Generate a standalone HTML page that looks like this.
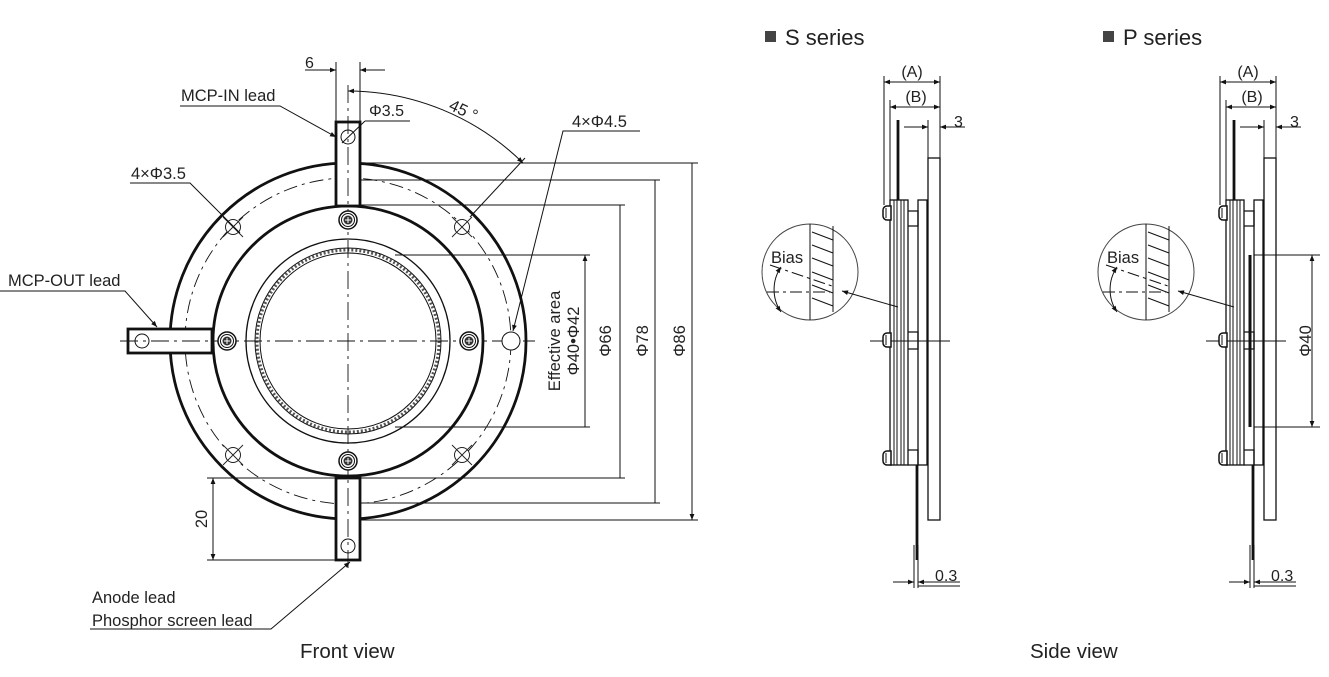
<!DOCTYPE html>
<html><head><meta charset="utf-8"><style>
html,body{margin:0;padding:0;background:#fff;width:1329px;height:677px;overflow:hidden}
svg{display:block}
text{font-family:"Liberation Sans",sans-serif;fill:#222}
</style></head><body>
<svg width="1329" height="677" viewBox="0 0 1329 677" xmlns="http://www.w3.org/2000/svg">
<defs>
<marker id="a" viewBox="0 0 10 10" refX="10" refY="5" markerWidth="10" markerHeight="6" orient="auto-start-reverse" markerUnits="userSpaceOnUse"><path d="M0,1 L10,5 L0,9 z" fill="#111"/></marker>
<g id="screw"><circle r="9" fill="#fff" stroke="#111" stroke-width="1.5"/><circle r="6.5" fill="none" stroke="#111"/><circle r="4.5" fill="#333"/><path d="M-3,0H3M0,-3V3" stroke="#fff" stroke-width="1"/></g>
<g id="hole"><circle r="7.5" fill="#fff" stroke="#222" stroke-width="1"/><path d="M-10,-10L10,10M-10,10L10,-10" stroke="#222" stroke-width="0.9"/></g>
<g id="sscrew"><path d="M2,-7 h-4 a4,4 0 0 0 -4,4 v6 a4,4 0 0 0 4,4 h4z" fill="#fff" stroke="#111" stroke-width="1.5"/><path d="M-3,-5v10" stroke="#111"/></g>
</defs>
<g stroke="#111" fill="none">
<circle cx="348" cy="341" r="178" stroke-width="2.8"/>
<circle cx="348" cy="341" r="163" stroke-width="0.9" stroke-dasharray="14 5 3 5"/>
<circle cx="348" cy="341" r="135" stroke-width="2.8" fill="#fff"/>
<circle cx="348" cy="341" r="102" stroke-width="1.3"/>
<circle cx="348" cy="341" r="93" stroke-width="1"/>
<circle cx="348" cy="341" r="91" stroke-width="3" stroke-dasharray="2 2" stroke="#555"/>
<circle cx="348" cy="341" r="88" stroke-width="1"/>
<rect x="336" y="122" width="24" height="84" fill="#fff" stroke-width="2.8"/>
<rect x="336" y="478" width="24" height="82" fill="#fff" stroke-width="2.8"/>
<rect x="128" y="329" width="84" height="24" fill="#fff" stroke-width="2.8"/>
<circle cx="348" cy="137" r="7" fill="#fff" stroke-width="1"/>
<circle cx="348" cy="546" r="7" fill="#fff" stroke-width="1"/>
<circle cx="142" cy="341" r="7" fill="#fff" stroke-width="1"/>
<path d="M348,85V570M120,341H535" stroke-width="0.9" stroke-dasharray="18 5 3 5"/>
<circle cx="511" cy="341" r="9" fill="#fff" stroke-width="1"/>
</g>
<use href="#screw" x="348" y="220"/><use href="#screw" x="348" y="461"/><use href="#screw" x="227" y="341"/><use href="#screw" x="469" y="341"/>
<use href="#hole" x="233" y="227"/><use href="#hole" x="462" y="227"/><use href="#hole" x="233" y="455"/><use href="#hole" x="462" y="455"/>
<g stroke="#111" stroke-width="1" fill="none">
<path d="M360,163H698M360,180H660M360,205H625M395,255H590M395,427H590M360,478H625M360,503H660M360,520H698"/>
<path d="M585,255V427M620,205V478M655,180V503M692,163V520" marker-start="url(#a)" marker-end="url(#a)"/>
<path d="M336,62V122M360,62V122"/>
<path d="M305,70H336" marker-end="url(#a)"/><path d="M385,70H360" marker-end="url(#a)"/>
<path d="M523,163 A250,250 0 0 0 348,91" marker-start="url(#a)" marker-end="url(#a)"/>
<path d="M525,158L470,217"/>
<path d="M180,106H280L336,137" marker-end="url(#a)"/>
<path d="M365,121H410M365,121L342,143"/>
<path d="M130,183H190L240,233"/>
<path d="M0,291H125L157,327" marker-end="url(#a)"/>
<path d="M640,131H563L513,331" marker-end="url(#a)"/>
<path d="M90,629H271L350,562" marker-end="url(#a)"/>
<path d="M207,478H336M207,560H340"/>
<path d="M213,478V560" marker-start="url(#a)" marker-end="url(#a)"/>
</g>
<text x="305" y="68" font-size="16">6</text>
<text x="181" y="101" font-size="16.5">MCP-IN lead</text>
<text x="369" y="116" font-size="16">Φ3.5</text>
<text x="449" y="112" font-size="16.5" transform="rotate(25 455 108)">45 °</text>
<text x="131" y="179" font-size="16.5">4×Φ3.5</text>
<text x="572" y="127" font-size="16.5">4×Φ4.5</text>
<text x="8" y="286" font-size="16.5">MCP-OUT lead</text>
<text x="92" y="603" font-size="16.5">Anode lead</text>
<text x="92" y="626" font-size="16.5">Phosphor screen lead</text>
<text x="300" y="658" font-size="20.5">Front view</text>
<text x="1030" y="658" font-size="20.5">Side view</text>
<g font-size="16.5" text-anchor="middle">
<text transform="translate(560,341) rotate(-90)">Effective area</text>
<text transform="translate(579,341) rotate(-90)">Φ40•Φ42</text>
<text transform="translate(611,341) rotate(-90)">Φ66</text>
<text transform="translate(648,341) rotate(-90)">Φ78</text>
<text transform="translate(685,341) rotate(-90)">Φ86</text>
<text transform="translate(207,519) rotate(-90)">20</text>
</g>
<g id="side">
<g stroke="#111" fill="none" stroke-width="1.3">
<rect x="928" y="158" width="12" height="362" fill="#fff"/>
<rect x="918" y="200" width="9" height="265" fill="#fff"/>
<path d="M908,211h10v15h-10M908,332h10v17h-10M908,450h10v15h-10"/>
<rect x="890" y="200" width="18" height="265" fill="#fff"/>
<path d="M894,200V465M897,200V465M901,200V465M904,200V465" stroke-width="1"/>
<path d="M898,120V200" stroke-width="2.8"/>
<path d="M917,465V560" stroke-width="2.8"/>
<path d="M870,341H950" stroke-width="1"/>
<g stroke-width="1">
<path d="M884,76V205M940,76V158M890,100V200M928,120V158M914,545V588M918,545V588"/>
<path d="M884,82H940" marker-start="url(#a)" marker-end="url(#a)"/>
<path d="M890,107H940" marker-start="url(#a)" marker-end="url(#a)"/>
<path d="M904,127H928" marker-end="url(#a)"/><path d="M965,127H940" marker-end="url(#a)"/>
<path d="M893,582H914" marker-end="url(#a)"/><path d="M960,582H918" marker-end="url(#a)"/>
<path d="M918,586H960"/>
<circle cx="810" cy="272" r="48" stroke="#444"/>
<path d="M810,224V320M833,226V312"/>
<path d="M812,232l21,8M812,245l21,8M812,258l21,8M812,272l21,8M812,285l21,8M812,298l21,8"/>
<path d="M770,265L832,286" stroke-dasharray="12 4 3 4"/>
<path d="M767,292H830" stroke-dasharray="12 4 3 4"/>
<path d="M781,267 A40,40 0 0 0 781,312" marker-start="url(#a)" marker-end="url(#a)"/>
<path d="M898,307L842,291" marker-end="url(#a)"/>
</g>
</g>
<use href="#sscrew" x="889" y="213"/><use href="#sscrew" x="889" y="340"/><use href="#sscrew" x="889" y="458"/>
<g font-size="16" text-anchor="middle"><text x="912" y="77">(A)</text><text x="916" y="102">(B)</text></g>
<text x="954" y="127" font-size="16">3</text>
<text x="935" y="581" font-size="16">0.3</text>
<text x="771" y="263" font-size="16.5">Bias</text>
</g>
<use href="#side" x="336" y="0"/>
<g stroke="#111" fill="none">
<path d="M1250,255V427" stroke-width="3"/>
<path d="M1254,255H1320M1254,427H1320" stroke-width="1"/>
<path d="M1312,255V427" stroke-width="1" marker-start="url(#a)" marker-end="url(#a)"/>
</g>
<text font-size="16.5" text-anchor="middle" transform="translate(1311,341) rotate(-90)">Φ40</text>
<rect x="765" y="31" width="11" height="11" fill="#444"/>
<text x="785" y="45" font-size="22">S series</text>
<rect x="1103" y="31" width="11" height="11" fill="#444"/>
<text x="1123" y="45" font-size="22">P series</text>
</svg>
</body></html>
